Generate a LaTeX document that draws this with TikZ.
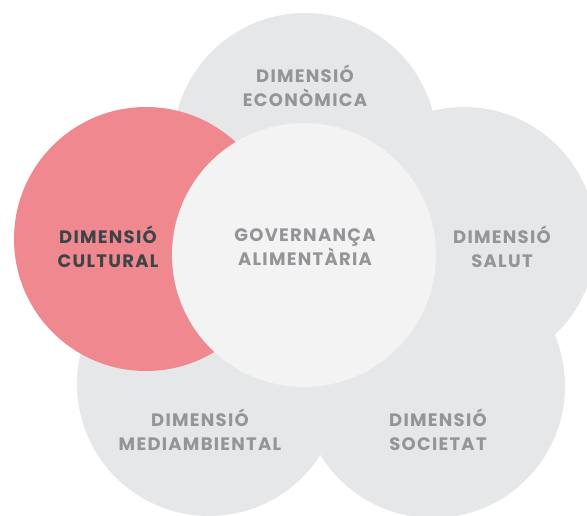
\documentclass[tikz,border=0pt]{standalone}
\usepackage{fontspec}
\setmainfont{Poppins}[LetterSpace=7]
\definecolor{petal}{HTML}{E6E7E9}
\definecolor{core}{HTML}{F3F3F3}
\definecolor{pink}{HTML}{F0888F}
\definecolor{txtgrey}{HTML}{939598}
\definecolor{txtdark}{HTML}{3D4448}
\tikzset{
  petalc/.style={circle, fill=petal, minimum size=264pt, inner sep=0pt},
  pinkc/.style={circle, fill=pink, minimum size=264pt, inner sep=0pt},
  corec/.style={circle, fill=core, minimum size=264pt, inner sep=0pt},
  lbl/.style={align=center, font=\fontsize{18}{24}\selectfont\bfseries, text=txtgrey, inner sep=0pt},
  lbldark/.style={lbl, text=txtdark}
}
\begin{document}
\begin{tikzpicture}[x=1pt,y=-1pt]
\path[use as bounding box] (0,0) rectangle (587,516);
\begin{scope}
\clip (0,0) rectangle (587,516);
\node[petalc] (eco) at (305,145) {};
\node[petalc] (sal) at (464,239) {};
\node[petalc] (med) at (209,384) {};
\node[petalc] (soc) at (433,386) {};
\node[pinkc] (cul) at (146,239) {};
\node[corec] (gov) at (304,255) {};
\end{scope}
\node[lbl] (teco) at (305,86) {DIMENSIÓ\\ECONÒMICA};
\node[lbldark] (tcul) at (108,247) {DIMENSIÓ\\CULTURAL};
\node[lbl] (tgov) at (305,247) {GOVERNANÇA\\ALIMENTÀRIA};
\node[lbl] (tsal) at (502,247) {DIMENSIÓ\\SALUT};
\node[lbl] (tmed) at (200,430) {DIMENSIÓ\\MEDIAMBIENTAL};
\node[lbl] (tsoc) at (438,430) {DIMENSIÓ\\SOCIETAT};
\end{tikzpicture}
\end{document}
